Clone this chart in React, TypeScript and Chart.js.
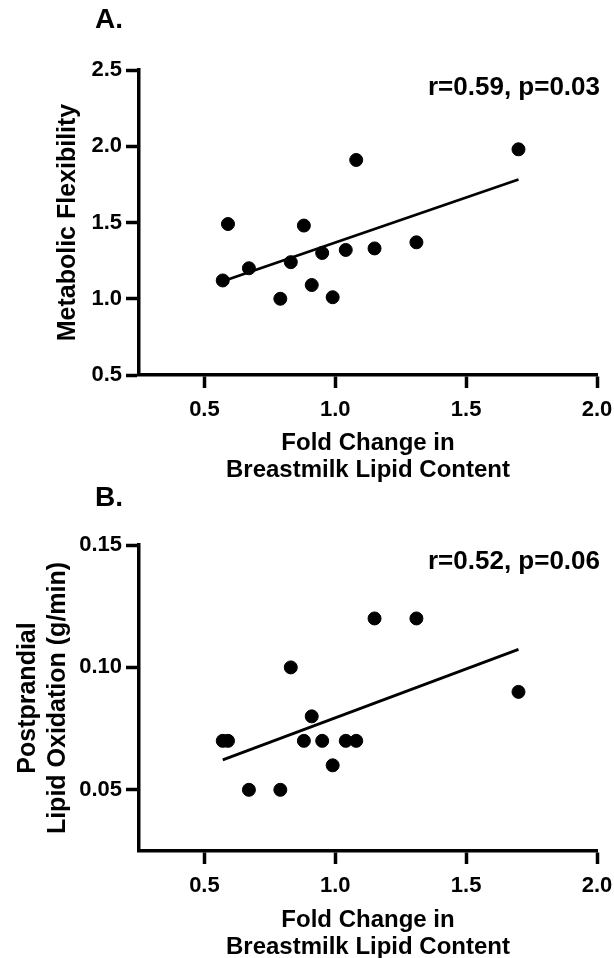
import React, { useEffect, useRef } from 'react';
import { Chart, registerables } from 'chart.js';

Chart.register(...registerables);

// ---- data ----
const foldChange = [0.57, 0.59, 0.67, 0.79, 0.83, 0.88, 0.91, 0.95, 0.99, 1.04, 1.08, 1.15, 1.31, 1.70];
const metabolicFlexibility = [1.12, 1.49, 1.20, 1.00, 1.24, 1.48, 1.09, 1.30, 1.01, 1.32, 1.91, 1.33, 1.37, 1.98];
const lipidOxidation = [0.07, 0.07, 0.05, 0.05, 0.10, 0.07, 0.08, 0.07, 0.06, 0.07, 0.07, 0.12, 0.12, 0.09];

const xTicks = [0.5, 1.0, 1.5, 2.0];
const yTicksA = [0.5, 1.0, 1.5, 2.0, 2.5];
const yTicksB = [0.05, 0.10, 0.15];

const xTitle = ['Fold Change in', 'Breastmilk Lipid Content'];
const yTitleA = 'Metabolic Flexibility';
const yTitleB = ['Postprandial', 'Lipid Oxidation (g/min)'];
const panelLabelA = 'A.';
const panelLabelB = 'B.';
const statA = 'r=0.59, p=0.03';
const statB = 'r=0.52, p=0.06';

const FONT = '"Liberation Sans", Arial, sans-serif';

function linreg(xs: number[], ys: number[]) {
  const n = xs.length;
  const mx = xs.reduce((a, b) => a + b, 0) / n;
  const my = ys.reduce((a, b) => a + b, 0) / n;
  let sxy = 0, sxx = 0;
  for (let i = 0; i < n; i++) {
    sxy += (xs[i] - mx) * (ys[i] - my);
    sxx += (xs[i] - mx) * (xs[i] - mx);
  }
  const b = sxy / sxx;
  return { a: my - b * mx, b };
}

type PanelProps = {
  ys: number[];
  yMin: number;
  yMax: number;
  yTicks: number[];
  decimals: number;
  yTitle: string | string[];
  yTitlePad: number;
  yTitleLH: number;
  xTitlePad: number;
  label: string;
  stat: string;
  top: number;
  H: number;
  plotTop: number;
  plotBottom: number;
  labelY: number;
  statY: number;
};

function Panel(p: PanelProps) {
  const ref = useRef<HTMLCanvasElement>(null);
  useEffect(() => {
    if (!ref.current) return;
    const fit = linreg(foldChange, p.ys);
    const x0 = Math.min(...foldChange);
    const x1 = Math.max(...foldChange);
    const textPlugin = {
      id: 'panelText',
      afterDraw(chart: any) {
        const ctx = chart.ctx;
        ctx.save();
        ctx.fillStyle = '#000';
        ctx.textBaseline = 'middle';
        ctx.font = `bold 28px ${FONT}`;
        ctx.textAlign = 'left';
        ctx.fillText(p.label, 95, p.labelY);
        ctx.font = `bold 26px ${FONT}`;
        ctx.textAlign = 'right';
        ctx.fillText(p.stat, 600, p.statY);
        ctx.restore();
      },
    };
    const axisColor = '#000';
    const chart = new Chart(ref.current, {
      type: 'scatter',
      data: {
        datasets: [
          {
            data: foldChange.map((x, i) => ({ x, y: p.ys[i] })),
            backgroundColor: '#000',
            borderColor: '#000',
            pointRadius: 6.5,
            pointHoverRadius: 6.5,
            showLine: false,
            order: 1,
          },
          {
            data: [
              { x: x0, y: fit.a + fit.b * x0 },
              { x: x1, y: fit.a + fit.b * x1 },
            ],
            borderColor: '#000',
            backgroundColor: '#000',
            borderWidth: 2.8,
            pointRadius: 0,
            showLine: true,
            fill: false,
            order: 0,
          },
        ],
      },
      options: {
        responsive: false,
        maintainAspectRatio: false,
        animation: false,
        events: [],
        layout: { padding: { top: p.plotTop, right: 17, left: 0, bottom: 0 } },
        plugins: { legend: { display: false }, tooltip: { enabled: false }, title: { display: false } },
        scales: {
          x: {
            type: 'linear',
            min: 0.25,
            max: 2.0,
            afterBuildTicks: (s: any) => {
              s.ticks = xTicks.map((v) => ({ value: v }));
            },
            afterFit: (s: any) => {
              s.height = p.H - p.plotBottom;
              s.paddingLeft = 0;
              s.paddingRight = 0;
            },
            ticks: {
              autoSkip: false,
              maxRotation: 0,
              minRotation: 0,
              padding: 9,
              color: '#000',
              font: { family: FONT, size: 22, weight: 'bold' },
              callback: (v: any) => Number(v).toFixed(1),
            },
            grid: {
              display: true,
              drawOnChartArea: false,
              drawTicks: true,
              tickLength: 13,
              tickWidth: 3.5,
              color: axisColor,
            },
            border: { display: true, color: axisColor, width: 3.5 },
            title: {
              display: true,
              text: xTitle,
              color: '#000',
              font: { family: FONT, size: 24, weight: 'bold', lineHeight: 1.1 },
              padding: { top: 0, bottom: p.xTitlePad },
            },
          },
          y: {
            type: 'linear',
            min: p.yMin,
            max: p.yMax,
            afterBuildTicks: (s: any) => {
              s.ticks = p.yTicks.map((v) => ({ value: v }));
            },
            afterFit: (s: any) => {
              s.width = 139;
              s.paddingTop = 0;
              s.paddingBottom = 0;
            },
            ticks: {
              autoSkip: false,
              padding: 4,
              color: '#000',
              font: { family: FONT, size: 22, weight: 'bold' },
              callback: (v: any) => Number(v).toFixed(p.decimals),
            },
            grid: {
              display: true,
              drawOnChartArea: false,
              drawTicks: true,
              tickLength: 13,
              tickWidth: 3.5,
              color: axisColor,
            },
            border: { display: true, color: axisColor, width: 3.5 },
            title: {
              display: true,
              text: p.yTitle,
              color: '#000',
              font: { family: FONT, size: 25, weight: 'bold', lineHeight: p.yTitleLH },
              padding: { top: p.yTitlePad, bottom: 0 },
            },
          },
        },
      } as any,
      plugins: [textPlugin],
    });
    return () => chart.destroy();
  }, []);
  return (
    <canvas
      ref={ref}
      width={614}
      height={p.H}
      style={{ position: 'absolute', left: 0, top: p.top, width: 614, height: p.H }}
    />
  );
}

export default function App() {
  return (
    <div
      style={{
        position: 'absolute',
        left: 0,
        top: 0,
        width: 614,
        height: 958,
        overflow: 'hidden',
        background: '#fff',
      }}
    >
      <Panel
        ys={metabolicFlexibility}
        yMin={0.5}
        yMax={2.5}
        yTicks={yTicksA}
        decimals={1}
        yTitle={yTitleA}
        yTitlePad={54}
        yTitleLH={1.12}
        xTitlePad={6.8}
        label={panelLabelA}
        stat={statA}
        top={0}
        H={490}
        plotTop={70}
        plotBottom={375}
        labelY={20}
        statY={88}
      />
      <Panel
        ys={lipidOxidation}
        yMin={0.025}
        yMax={0.15}
        yTicks={yTicksB}
        decimals={2}
        yTitle={yTitleB}
        yTitlePad={13}
        yTitleLH={1.2}
        xTitlePad={9.8}
        label={panelLabelB}
        stat={statB}
        top={480}
        H={490}
        plotTop={65}
        plotBottom={371}
        labelY={18}
        statY={82}
      />
    </div>
  );
}
